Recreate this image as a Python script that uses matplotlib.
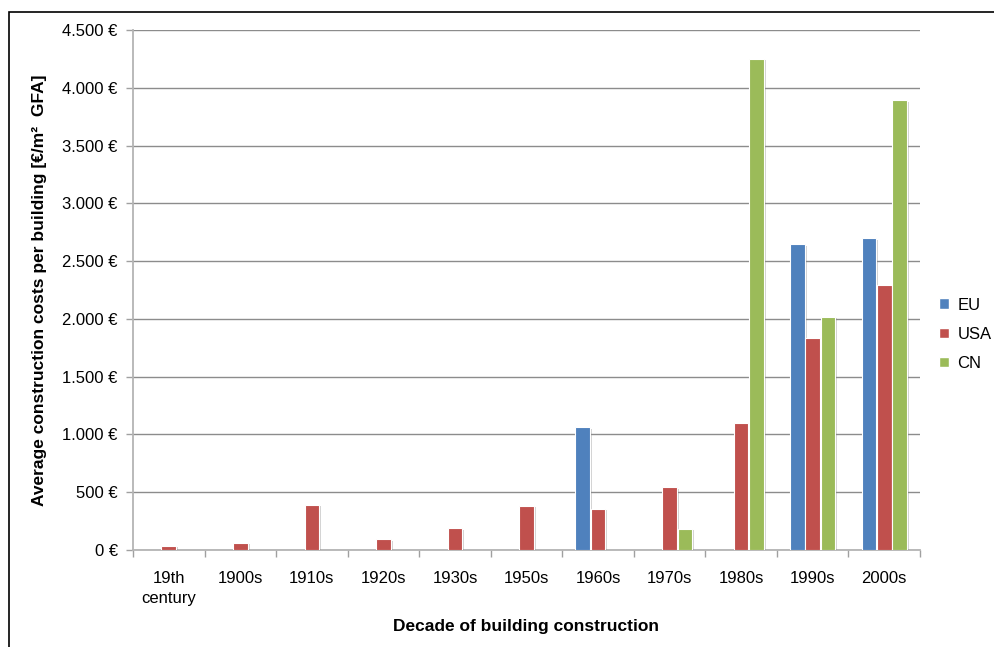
import numpy as np
import matplotlib
matplotlib.use("Agg")
import matplotlib.pyplot as plt
import matplotlib.patheffects as pe
from matplotlib.patches import Rectangle, Patch
from matplotlib.ticker import FuncFormatter

plt.rcParams['font.family'] = ['Liberation Sans', 'DejaVu Sans']

# data
decades = ["19th\ncentury", "1900s", "1910s", "1920s", "1930s", "1950s",
           "1960s", "1970s", "1980s", "1990s", "2000s"]
eu = [0, 0, 0, 0, 0, 0, 1061, 0, 0, 2647, 2699]
usa = [35, 60, 390, 93, 188, 380, 357, 542, 1096, 1834, 2292]
cn = [0, 0, 0, 0, 0, 0, 0, 182, 4250, 2016, 3893]
series = {"EU": eu, "USA": usa, "CN": cn}
colors = ["#4F81BD", "#C0504D", "#9BBB59"]
yticks = [0, 500, 1000, 1500, 2000, 2500, 3000, 3500, 4000, 4500]

fig = plt.figure(figsize=(9.94, 6.47), dpi=100)
ax = fig.add_axes([133/994, 1 - 550/647, (920-133)/994, 520/647])

# outer frame of the chart
fig.patches.append(Rectangle((9/994, -0.1), 1.1, 1 - 12/647 + 0.1, transform=fig.transFigure,
                             fill=False, edgecolor='black', linewidth=1.2))

x = np.arange(len(decades))
width = 0.205
shadow = [pe.SimplePatchShadow(offset=(1.5, -1), shadow_rgbFace='#808080', alpha=0.35), pe.Normal()]
for i, (name, vals) in enumerate(series.items()):
    offset = (i - 1) * (width + 0.01)
    v = np.array(vals, dtype=float)
    keep = v > 0
    bars = ax.bar(x[keep] + offset, v[keep], width, color=colors[i],
                  edgecolor='white', linewidth=0.8, zorder=3)
    for b in bars:
        b.set_path_effects(shadow)

ax.set_xlim(-0.5, len(decades) - 0.5)
ax.set_ylim(0, 4500)
ax.set_yticks(yticks)
ax.yaxis.set_major_formatter(FuncFormatter(lambda v, p: f"{int(v):,} €".replace(",", ".")))
ax.yaxis.grid(True, color='#8c8c8c', linewidth=1.0, zorder=0)
ax.set_axisbelow(True)

ax.set_xticks(x)
ax.set_xticklabels(decades, fontsize=12, linespacing=1.4)
ax.set_xticks(np.arange(-0.5, len(decades), 1), minor=True)
ax.tick_params(axis='x', which='major', length=0, pad=15)
ax.tick_params(axis='x', which='minor', length=5, color='#a0a0a0', width=1)
ax.tick_params(axis='y', length=5, color='#a0a0a0', width=1, labelsize=12, pad=6)

for s in ['top', 'right']:
    ax.spines[s].set_visible(False)
for s in ['left', 'bottom']:
    ax.spines[s].set_color('#b4b4b4')
    ax.spines[s].set_linewidth(1.3)

fig.text(40/994, 1 - 290/647, "Average construction costs per building [€/m²  GFA]",
         rotation=90, ha='center', va='center', fontsize=12.5, fontweight='bold')
fig.text(526/994, 1 - 627/647, "Decade of building construction",
         ha='center', va='center', fontsize=12.5, fontweight='bold')

handles = [Patch(facecolor=c, edgecolor='white', label=n) for n, c in zip(series, colors)]
ax.legend(handles=handles, loc='center left', bbox_to_anchor=(1.005, 0.415), frameon=False,
          fontsize=12, handlelength=0.6, handleheight=0.6, handletextpad=0.5,
          labelspacing=0.85)

fig.savefig("out.png", dpi=100)
